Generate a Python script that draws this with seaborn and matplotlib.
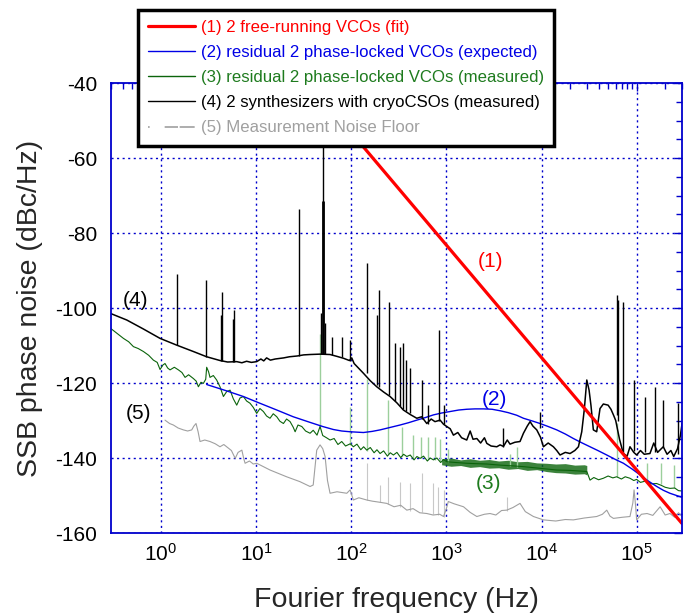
import numpy as np
import pandas as pd
import seaborn as sns

from matplotlib import pyplot as plt
from matplotlib.lines import Line2D
from matplotlib.ticker import FixedLocator, LogLocator, MultipleLocator, NullFormatter

# (1) 2 free-running VCOs (fit)
fit_logf = [1.55, 3.459, 5.475]
fit_dbc = [-39.7, -97.0, -157.4]

# (2) residual 2 phase-locked VCOs (expected)
expected_logf = [0.48, 0.69, 0.866, 1.04, 1.217, 1.39, 1.567, 1.70, 1.812, 1.90, 1.988, 2.128, 2.22,
                 2.303, 2.40, 2.513, 2.60, 2.689, 2.78, 2.864, 2.95, 3.04, 3.13, 3.214, 3.30, 3.39,
                 3.48, 3.565, 3.65, 3.74, 3.81, 3.90, 3.985, 4.07, 4.16, 4.25, 4.335, 4.42, 4.51,
                 4.60, 4.686, 4.77, 4.861, 4.95, 5.036, 5.12, 5.212, 5.28, 5.35, 5.42, 5.478]
expected_dbc = [-120.4, -122.1, -123.6, -125.4, -127.2, -129.0, -130.5, -131.6, -132.4, -132.8,
                -133.0, -133.2, -132.9, -132.5, -131.9, -131.2, -130.6, -129.9, -129.2, -128.5,
                -128.0, -127.6, -127.2, -127.0, -126.9, -126.9, -127.0, -127.4, -127.9, -128.6,
                -129.4, -130.1, -130.8, -131.6, -132.5, -133.6, -134.8, -135.9, -137.0, -138.1,
                -139.2, -140.3, -141.4, -142.9, -144.5, -146.1, -147.6, -148.6, -149.4, -150.0, -150.5]

# (3) residual 2 phase-locked VCOs (measured)
measured_logf = [-0.526, -0.45, -0.395, -0.34, -0.29, -0.24, -0.185, -0.13, -0.08, -0.04, -0.01, 0.02,
                 0.042, 0.07, 0.095, 0.14, 0.183, 0.22, 0.253, 0.29, 0.34, 0.37, 0.393, 0.42, 0.445,
                 0.47, 0.48, 0.50, 0.515, 0.55, 0.585, 0.62, 0.656, 0.69, 0.726, 0.76, 0.796, 0.83,
                 0.866, 0.90, 0.936, 0.97, 1.006, 1.04, 1.076, 1.11, 1.146, 1.18, 1.217, 1.25, 1.287,
                 1.32, 1.357, 1.39, 1.41, 1.44, 1.48, 1.52, 1.567, 1.60, 1.64, 1.672, 1.70, 1.74,
                 1.777, 1.82, 1.86, 1.90, 1.94, 1.99, 2.022, 2.06, 2.10, 2.13, 2.163, 2.20, 2.24,
                 2.27, 2.303, 2.34, 2.38, 2.41, 2.443, 2.48, 2.52, 2.55, 2.584, 2.62, 2.66, 2.69,
                 2.724, 2.76, 2.80, 2.83, 2.864, 2.90, 2.94, 2.97, 3.004, 3.1, 3.214, 3.3, 3.425,
                 3.565, 3.7, 3.81, 4.0, 4.16, 4.3, 4.476, 4.51, 4.55, 4.60, 4.65, 4.70, 4.75, 4.79,
                 4.84, 4.88, 4.93, 4.97, 5.0, 5.04, 5.07, 5.11, 5.15, 5.21, 5.26, 5.30, 5.35, 5.40,
                 5.44, 5.478]
measured_dbc = [-105.5, -107.0, -108.1, -109.0, -110.3, -110.8, -111.6, -112.6, -113.9, -114.5,
                -116.4, -115.2, -114.8, -116.0, -116.5, -115.8, -116.5, -117.2, -118.5, -117.8,
                -118.8, -119.5, -121.0, -119.8, -120.1, -119.0, -115.8, -117.0, -118.5, -118.0,
                -119.2, -121.0, -123.6, -122.3, -121.9, -124.2, -125.9, -124.0, -123.6, -124.8,
                -125.4, -126.5, -128.1, -126.8, -127.6, -128.8, -129.4, -128.2, -129.0, -130.2,
                -130.8, -129.6, -130.3, -131.8, -133.0, -131.2, -131.6, -132.8, -133.4, -132.6,
                -133.9, -131.6, -134.0, -134.6, -135.2, -134.8, -136.4, -135.6, -136.8, -136.2,
                -137.0, -136.3, -137.8, -137.0, -137.9, -137.2, -138.6, -137.8, -138.8, -138.1,
                -139.5, -138.6, -139.2, -138.5, -139.9, -139.0, -139.6, -139.2, -140.5, -139.6,
                -140.1, -139.5, -140.8, -140.0, -140.5, -140.0, -141.2, -140.4, -141.0, -141.2,
                -141.4, -141.5, -141.6, -141.9, -142.1, -142.3, -142.8, -143.2, -143.3, -143.6,
                -145.9, -145.2, -145.8, -145.4, -144.8, -145.3, -145.0, -145.6, -145.0, -145.4,
                -146.0, -145.7, -146.5, -146.3, -146.0, -146.9, -146.8, -147.3, -147.8, -148.1,
                -148.0, -148.7, -148.8]
# the dense noisy band of (3), 1 kHz to 30 kHz
band_logf = [2.95, 3.05, 3.15, 3.25, 3.35, 3.45, 3.55, 3.65, 3.75, 3.85, 3.95, 4.05, 4.15, 4.25,
             4.35, 4.45, 4.476]
band_low = [-141.8, -142.2, -142.0, -142.5, -142.3, -142.7, -142.6, -143.0, -142.8, -143.3, -143.1,
            -143.6, -143.9, -144.0, -144.3, -144.2, -144.5]
band_high = [-140.2, -140.0, -140.5, -140.2, -140.6, -140.4, -140.8, -140.6, -141.0, -140.9, -141.3,
             -141.4, -141.6, -141.5, -141.9, -141.8, -142.0]
# spurs of (3): position, floor, top
measured_spur_logf = [1.672, 1.99, 2.163, 2.39, 2.53, 2.65, 2.73, 2.81, 2.88, 2.93, 3.02, 3.67, 3.74,
                      4.79, 5.11, 5.26, 5.39]
measured_spur_low = [-132.0, -136.5, -138.0, -139.0, -139.5, -140.0, -140.0, -140.3, -140.5, -140.8,
                     -141.0, -142.0, -142.3, -145.0, -146.3, -147.0, -148.0]
measured_spur_top = [-106.8, -126.3, -118.8, -124.5, -131.6, -133.9, -134.5, -134.5, -134.5, -135.0,
                     -137.5, -138.8, -137.0, -130.7, -141.4, -141.4, -141.9]

# (4) 2 synthesizers with cryoCSOs (measured)
synth_logf = [-0.526, -0.36, -0.185, -0.01, 0.165, 0.34, 0.48, 0.62, 0.70, 0.796, 0.85, 0.90, 0.95,
              1.006, 1.05, 1.08, 1.11, 1.15, 1.20, 1.29, 1.35, 1.43, 1.50, 1.567, 1.672, 1.777, 1.85,
              1.918, 1.98, 2.005, 2.03, 2.128, 2.2, 2.268, 2.34, 2.408, 2.48, 2.548, 2.62, 2.689,
              2.74, 2.794, 2.84, 2.88, 2.934, 2.97, 3.004, 3.04, 3.074, 3.12, 3.16, 3.214, 3.25,
              3.28, 3.32, 3.36, 3.40, 3.425, 3.47, 3.53, 3.564, 3.60, 3.64, 3.669, 3.72, 3.774, 3.81,
              3.85, 3.88, 3.91, 3.95, 3.99, 4.02, 4.07, 4.125, 4.16, 4.195, 4.25, 4.30, 4.35, 4.388,
              4.423, 4.45, 4.476, 4.50, 4.52, 4.545, 4.58, 4.615, 4.65, 4.70, 4.73, 4.756, 4.78,
              4.82, 4.86, 4.90, 4.93, 4.97, 5.0, 5.04, 5.08, 5.14, 5.18, 5.22, 5.28, 5.32, 5.36,
              5.39, 5.43, 5.46, 5.478]
synth_dbc = [-101.5, -103.2, -105.6, -108.1, -109.9, -111.6, -113.0, -114.0, -114.4, -114.3, -114.6,
             -114.2, -114.5, -114.3, -113.6, -114.1, -113.3, -113.9, -113.6, -113.3, -113.0, -112.8,
             -112.5, -112.4, -112.3, -112.4, -112.9, -113.4, -114.0, -113.3, -114.8, -117.4, -119.4,
             -121.0, -122.4, -123.6, -125.3, -127.2, -128.4, -129.4, -129.0, -130.8, -129.6, -130.3,
             -129.9, -131.0, -131.6, -132.2, -133.9, -133.2, -134.6, -135.2, -132.8, -135.0, -134.8,
             -136.0, -134.6, -136.1, -136.8, -137.0, -136.5, -136.9, -135.2, -136.3, -135.8, -135.6,
             -133.4, -131.5, -130.3, -131.5, -132.5, -134.5, -137.0, -136.0, -137.0, -138.0, -139.2,
             -138.5, -138.8, -138.0, -137.0, -133.0, -127.0, -119.2, -121.9, -126.0, -132.5, -133.0,
             -126.8, -125.6, -125.9, -127.0, -128.5, -130.0, -135.0, -138.8, -139.5, -137.0, -138.5,
             -139.2, -138.0, -139.0, -138.8, -136.0, -138.5, -137.0, -139.0, -138.0, -139.6, -137.5,
             -134.0, -130.7]
# spurs of (4): position, floor, top
synth_spur_logf = [0.165, 0.47, 0.628, 0.645, 0.754, 0.772, 1.455, 1.68, 1.72, 1.80, 1.9, 1.99, 2.17,
                   2.275, 2.29, 2.40, 2.455, 2.51, 2.54, 2.58, 2.62, 2.74, 2.81, 2.925, 2.975, 3.60,
                   3.985, 4.79, 4.80, 4.86, 4.97, 5.09, 5.19, 5.28, 5.44]
synth_spur_low = [-109.9, -113.0, -114.0, -114.0, -114.3, -114.3, -112.8, -112.3, -112.3, -112.5,
                  -113.0, -114.0, -117.4, -120.5, -121.0, -123.2, -124.8, -126.0, -126.8, -127.5,
                  -128.0, -129.6, -130.8, -130.0, -131.0, -137.0, -132.0, -128.5, -130.0, -138.8,
                  -138.0, -138.5, -138.5, -137.0, -139.0]
synth_spur_top = [-90.8, -92.5, -101.9, -95.6, -102.8, -100.5, -73.6, -101.4, -104.0, -107.6, -107.6,
                  -108.5, -88.1, -101.9, -95.2, -98.5, -109.4, -110.3, -109.4, -113.9, -116.0, -119.2,
                  -125.9, -105.9, -125.9, -132.1, -127.6, -96.5, -97.9, -98.3, -119.2, -123.6, -121.0,
                  -124.5, -125.4]
# the 50 Hz line
mains_logf = 1.70
mains_low = -112.3
mains_top = [-71.5, -30.0]

# (5) Measurement Noise Floor
floor_logf = [0.042, 0.09, 0.13, 0.18, 0.235, 0.28, 0.323, 0.345, 0.368, 0.39, 0.41, 0.46, 0.515, 0.57,
              0.62, 0.66, 0.69, 0.74, 0.78, 0.81, 0.85, 0.87, 0.884, 0.93, 0.97, 1.006, 1.146, 1.32,
              1.46, 1.567, 1.60, 1.637, 1.672, 1.70, 1.725, 1.75, 1.777, 1.85, 1.953, 1.988, 2.022,
              2.08, 2.163, 2.22, 2.30, 2.373, 2.45, 2.52, 2.584, 2.65, 2.72, 2.794, 2.86, 2.93, 2.97,
              3.00, 3.02, 3.08, 3.13, 3.18, 3.25, 3.32, 3.40, 3.459, 3.52, 3.58, 3.634, 3.70, 3.774,
              3.83, 3.915, 4.02, 4.15, 4.25, 4.335, 4.45, 4.58, 4.64, 4.686, 4.72, 4.756, 4.85, 4.93,
              4.96, 4.973, 4.99, 5.0, 5.05, 5.11, 5.17, 5.247, 5.30, 5.35, 5.40, 5.44, 5.478]
floor_dbc = [-129.9, -130.8, -131.2, -132.0, -132.5, -132.8, -132.5, -131.5, -130.8, -133.0, -135.6,
             -135.2, -135.6, -136.2, -137.0, -136.4, -137.0, -138.0, -140.1, -138.5, -137.9, -140.2,
             -141.4, -140.8, -141.6, -141.4, -143.2, -145.0, -146.3, -147.6, -147.2, -137.9, -136.5,
             -137.5, -139.6, -146.0, -149.4, -149.0, -149.4, -148.5, -151.2, -150.6, -151.2, -151.5,
             -151.8, -152.1, -153.0, -152.6, -153.9, -153.5, -154.6, -154.8, -155.2, -155.0, -155.6,
             -153.5, -151.6, -152.2, -152.6, -153.0, -154.5, -155.6, -155.0, -154.8, -155.2, -154.0,
             -153.9, -153.2, -152.1, -154.3, -155.6, -156.5, -156.8, -156.4, -156.5, -156.0, -155.6,
             -155.0, -153.9, -155.5, -156.1, -155.8, -155.6, -152.0, -148.5, -153.0, -156.5, -155.0,
             -154.8, -155.3, -153.0, -155.2, -154.8, -155.8, -154.6, -155.6]
floor_spur_logf = [2.163, 2.30, 2.39, 2.51, 2.62, 2.74, 2.86, 2.91, 2.97, 3.64]
floor_spur_low = [-151.2, -151.8, -152.2, -153.0, -154.0, -154.5, -155.0, -155.3, -155.6, -154.0]
floor_spur_top = [-141.4, -147.2, -145.0, -146.3, -146.7, -144.1, -146.7, -147.6, -148.5, -150.5]

X_TICKS = [1, 10, 100, 1000, 10000, 100000]

LEGEND_LABELS = ['(1) 2 free-running VCOs (fit)',
                 '(2) residual 2 phase-locked VCOs (expected)',
                 '(3) residual 2 phase-locked VCOs (measured)',
                 '(4) 2 synthesizers with cryoCSOs (measured)',
                 '(5) Measurement Noise Floor']

RED = '#ff0000'
BLUE = '#0000e6'
GREEN = '#0b640b'
GREEN_TXT = '#1e7b1e'
LIGHT_GREEN = '#9ccf9c'
GRAY = '#a0a0a0'
LIGHT_GRAY = '#c8c8c8'
AXIS_BLUE = '#0000cc'


def hz(logf):
    return 10.0 ** np.asarray(logf, dtype=float)


def curve(logf, dbc):
    return pd.DataFrame({'Frequency': hz(logf), 'Noise': dbc})


def main():
    sns.set_style('white')
    plt.rcParams['font.family'] = ['Liberation Sans', 'DejaVu Sans']
    plt.rcParams['mathtext.default'] = 'regular'
    plt.rcParams['axes.unicode_minus'] = False

    fig = plt.figure(figsize=(6.86, 6.14), dpi=100)
    ax = fig.add_axes([0.1618, 0.1319, 0.8324, 0.7329])
    ax.set_xscale('log')

    kw = dict(x='Frequency', y='Noise', estimator=None, sort=False, legend=False, ax=ax)

    # (5) noise floor
    ax.vlines(hz(floor_spur_logf), floor_spur_low, floor_spur_top, colors=LIGHT_GRAY, lw=0.8)
    sns.lineplot(data=curve(floor_logf, floor_dbc), color=GRAY, lw=0.8, **kw)

    # (3) measured residual
    ax.vlines(hz(measured_spur_logf), measured_spur_low, measured_spur_top, colors=LIGHT_GREEN, lw=1.0)
    ax.fill_between(hz(band_logf), band_low, band_high, color=GREEN, lw=0, alpha=0.8)
    sns.lineplot(data=curve(measured_logf, measured_dbc), color=GREEN, lw=0.8, **kw)

    # (2) expected residual
    sns.lineplot(data=curve(expected_logf, expected_dbc), color=BLUE, lw=1.0, **kw)

    # (4) synthesizers
    ax.vlines(hz(synth_spur_logf), synth_spur_low, synth_spur_top, colors='black', lw=1.0)
    ax.vlines(hz(mains_logf), mains_low, mains_top[0], colors='black', lw=2.0)
    ax.vlines(hz(mains_logf), mains_low, mains_top[1], colors='black', lw=1.0)
    sns.lineplot(data=curve(synth_logf, synth_dbc), color='black', lw=1.1, **kw)

    # (1) free-running fit
    sns.lineplot(data=curve(fit_logf, fit_dbc), color=RED, lw=2.3, **kw)

    ax.set_xlim(0.298, 3.0e5)
    ax.set_ylim(-160, -40)
    ax.xaxis.set_major_locator(FixedLocator(X_TICKS))
    ax.xaxis.set_minor_locator(LogLocator(base=10, subs=np.arange(2, 10), numticks=12))
    ax.xaxis.set_minor_formatter(NullFormatter())
    ax.yaxis.set_major_locator(MultipleLocator(20))
    ax.yaxis.set_minor_locator(MultipleLocator(5))

    ax.grid(which='major', color=AXIS_BLUE, linestyle=(0, (1.5, 2.5)), linewidth=1.0)
    for spine in ax.spines.values():
        spine.set_color(AXIS_BLUE)
        spine.set_linewidth(1.3)
    ax.tick_params(which='both', direction='in', top=True, right=True, color=AXIS_BLUE,
                   width=1.0, labelsize=15, labelcolor='black')
    ax.tick_params(which='major', length=6)
    ax.tick_params(which='minor', length=4.5)
    ax.tick_params(axis='y', which='both', pad=10)
    ax.tick_params(axis='x', which='both', pad=7)

    ax.set_xlabel('Fourier frequency (Hz)', fontsize=20.5, labelpad=16)
    ax.set_ylabel('SSB phase noise (dBc/Hz)', fontsize=20.5, labelpad=9)

    ax.text(hz(3.46), -87.7, '(1)', color=RED, fontsize=15, ha='center', va='center')
    ax.text(hz(3.51), -124.5, '(2)', color=BLUE, fontsize=15, ha='center', va='center')
    ax.text(hz(3.44), -146.7, '(3)', color=GREEN_TXT, fontsize=15, ha='center', va='center')
    ax.text(hz(-0.27), -97.9, '(4)', color='black', fontsize=15, ha='center', va='center')
    ax.text(hz(-0.24), -128.0, '(5)', color='black', fontsize=15, ha='center', va='center')

    handles = [Line2D([], [], color=RED, lw=2.3),
               Line2D([], [], color=BLUE, lw=1.0),
               Line2D([], [], color=GREEN, lw=1.0),
               Line2D([], [], color='black', lw=1.0),
               Line2D([], [], color=GRAY, lw=1.2, linestyle=(0, (1, 9, 8, 1, 9, 50)))]
    leg = fig.legend(handles=handles, labels=LEGEND_LABELS, loc='upper left',
                     bbox_to_anchor=(138 / 686, 1 - 10 / 614), bbox_transform=fig.transFigure,
                     fontsize=12.1, frameon=True, fancybox=False, framealpha=1, edgecolor='black',
                     borderpad=0.6, labelspacing=0.6, handlelength=2.8, handletextpad=0.35,
                     borderaxespad=0,
                     labelcolor=[RED, BLUE, GREEN_TXT, 'black', GRAY])
    leg.get_frame().set_linewidth(2.5)

    fig.savefig('out.png', dpi=100)


if __name__ == '__main__':
    main()
